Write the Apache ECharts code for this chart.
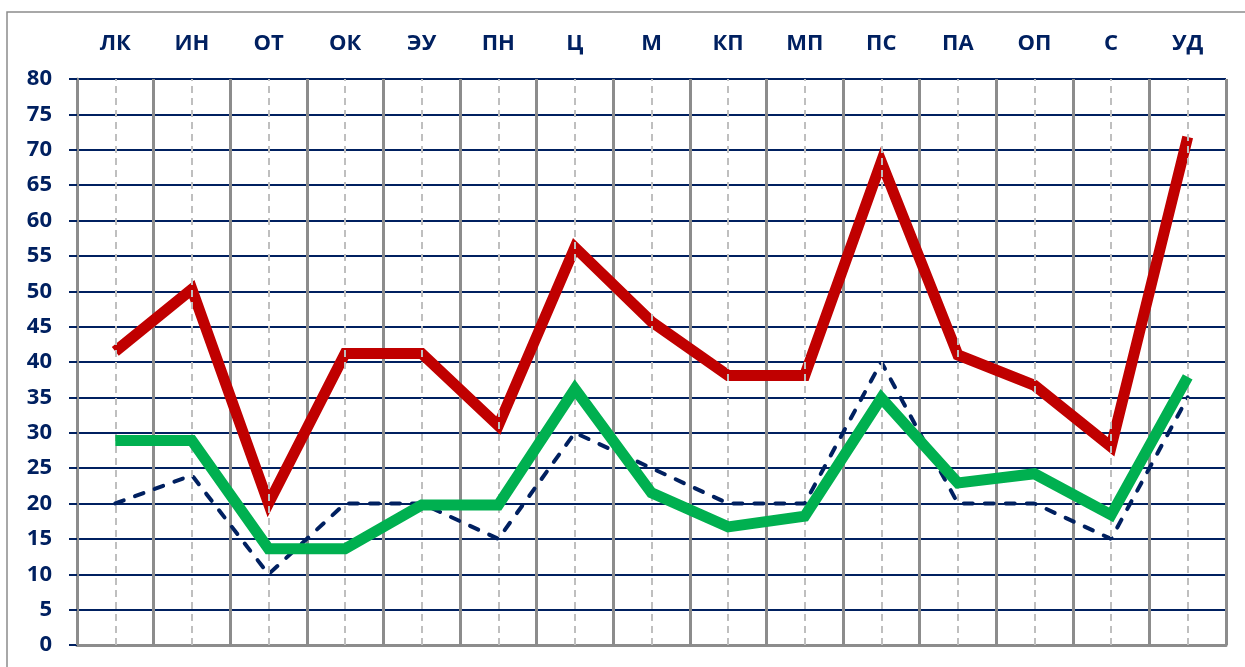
<!DOCTYPE html>
<html>
<head>
<meta charset="utf-8">
<script src="https://cdn.jsdelivr.net/npm/echarts@6/dist/echarts.min.js"></script>
<style>
html,body{margin:0;padding:0;background:#fff;}
#chart{width:1245px;height:667px;}
</style>
</head>
<body>
<div id="chart"></div>
<script>
const categories = ['ЛК','ИН','ОТ','ОК','ЭУ','ПН','Ц','М','КП','МП','ПС','ПА','ОП','С','УД'];
const redValues   = [41.5, 50.3, 20, 41.2, 41.2, 31, 56.2, 45.7, 38.1, 38.1, 68.3, 41, 36.7, 28, 71.8];
const greenValues = [28.9, 28.9, 13.6, 13.6, 19.8, 19.8, 36.2, 21.5, 16.7, 18.2, 34.9, 22.9, 24.2, 18.4, 37.9];
const dashValues  = [20, 24, 10, 20, 20, 15, 30, 25, 20, 20, 40, 20, 20, 15, 35];
const yTicks = {min: 0, max: 80, interval: 5};

const navy = '#002060';
const gray = '#8c8c8c';
const font = '"Open Sans", "Liberation Sans", sans-serif';

const chart = echarts.init(document.getElementById('chart'));
chart.setOption({
  animation: false,
  backgroundColor: '#ffffff',
  grid: {left: 77, right: 19, top: 79, bottom: 22, containLabel: false},
  graphic: [{
    type: 'rect', silent: true, z: -10,
    shape: {x: 7, y: 12, width: 1400, height: 800},
    style: {fill: 'none', stroke: gray, lineWidth: 1.5}
  }],
  xAxis: {
    type: 'category',
    position: 'top',
    data: categories,
    boundaryGap: true,
    axisLine: {show: true, lineStyle: {color: gray, width: 3}},
    axisTick: {show: true, length: 8, lineStyle: {color: gray, width: 3}},
    splitLine: {show: true, lineStyle: {color: gray, width: 3}},
    axisLabel: {color: navy, fontWeight: 'bold', fontSize: 22, fontFamily: font, margin: 24}
  },
  yAxis: {
    type: 'value',
    min: yTicks.min, max: yTicks.max, interval: yTicks.interval,
    axisLine: {show: true, lineStyle: {color: gray, width: 3}},
    axisTick: {show: true, length: 8, lineStyle: {color: navy, width: 2}},
    splitLine: {show: true, lineStyle: {color: navy, width: 2}},
    axisLabel: {color: navy, fontWeight: 'bold', fontSize: 22, fontFamily: font, margin: 25}
  },
  series: [
    {
      name: 'centers', type: 'line', data: [], z: 1, silent: true,
      markLine: {
        silent: true, symbol: ['none', 'none'], label: {show: false},
        lineStyle: {color: '#BFBFBF', type: [7, 5], width: 2},
        data: categories.map(c => ({xAxis: c}))
      }
    },
    {
      name: 'dash', type: 'line', data: dashValues, symbol: 'none', z: 3,
      lineStyle: {color: navy, width: 4, type: [9, 12], cap: 'round'}
    },
    {
      name: 'red', type: 'line', data: redValues, symbol: 'none', z: 4,
      lineStyle: {color: '#C00000', width: 11, cap: 'butt', join: 'miter'}
    },
    {
      name: 'green', type: 'line', data: greenValues, symbol: 'none', z: 5,
      lineStyle: {color: '#00B050', width: 11, cap: 'butt', join: 'miter'}
    }
  ]
});
</script>
</body>
</html>
